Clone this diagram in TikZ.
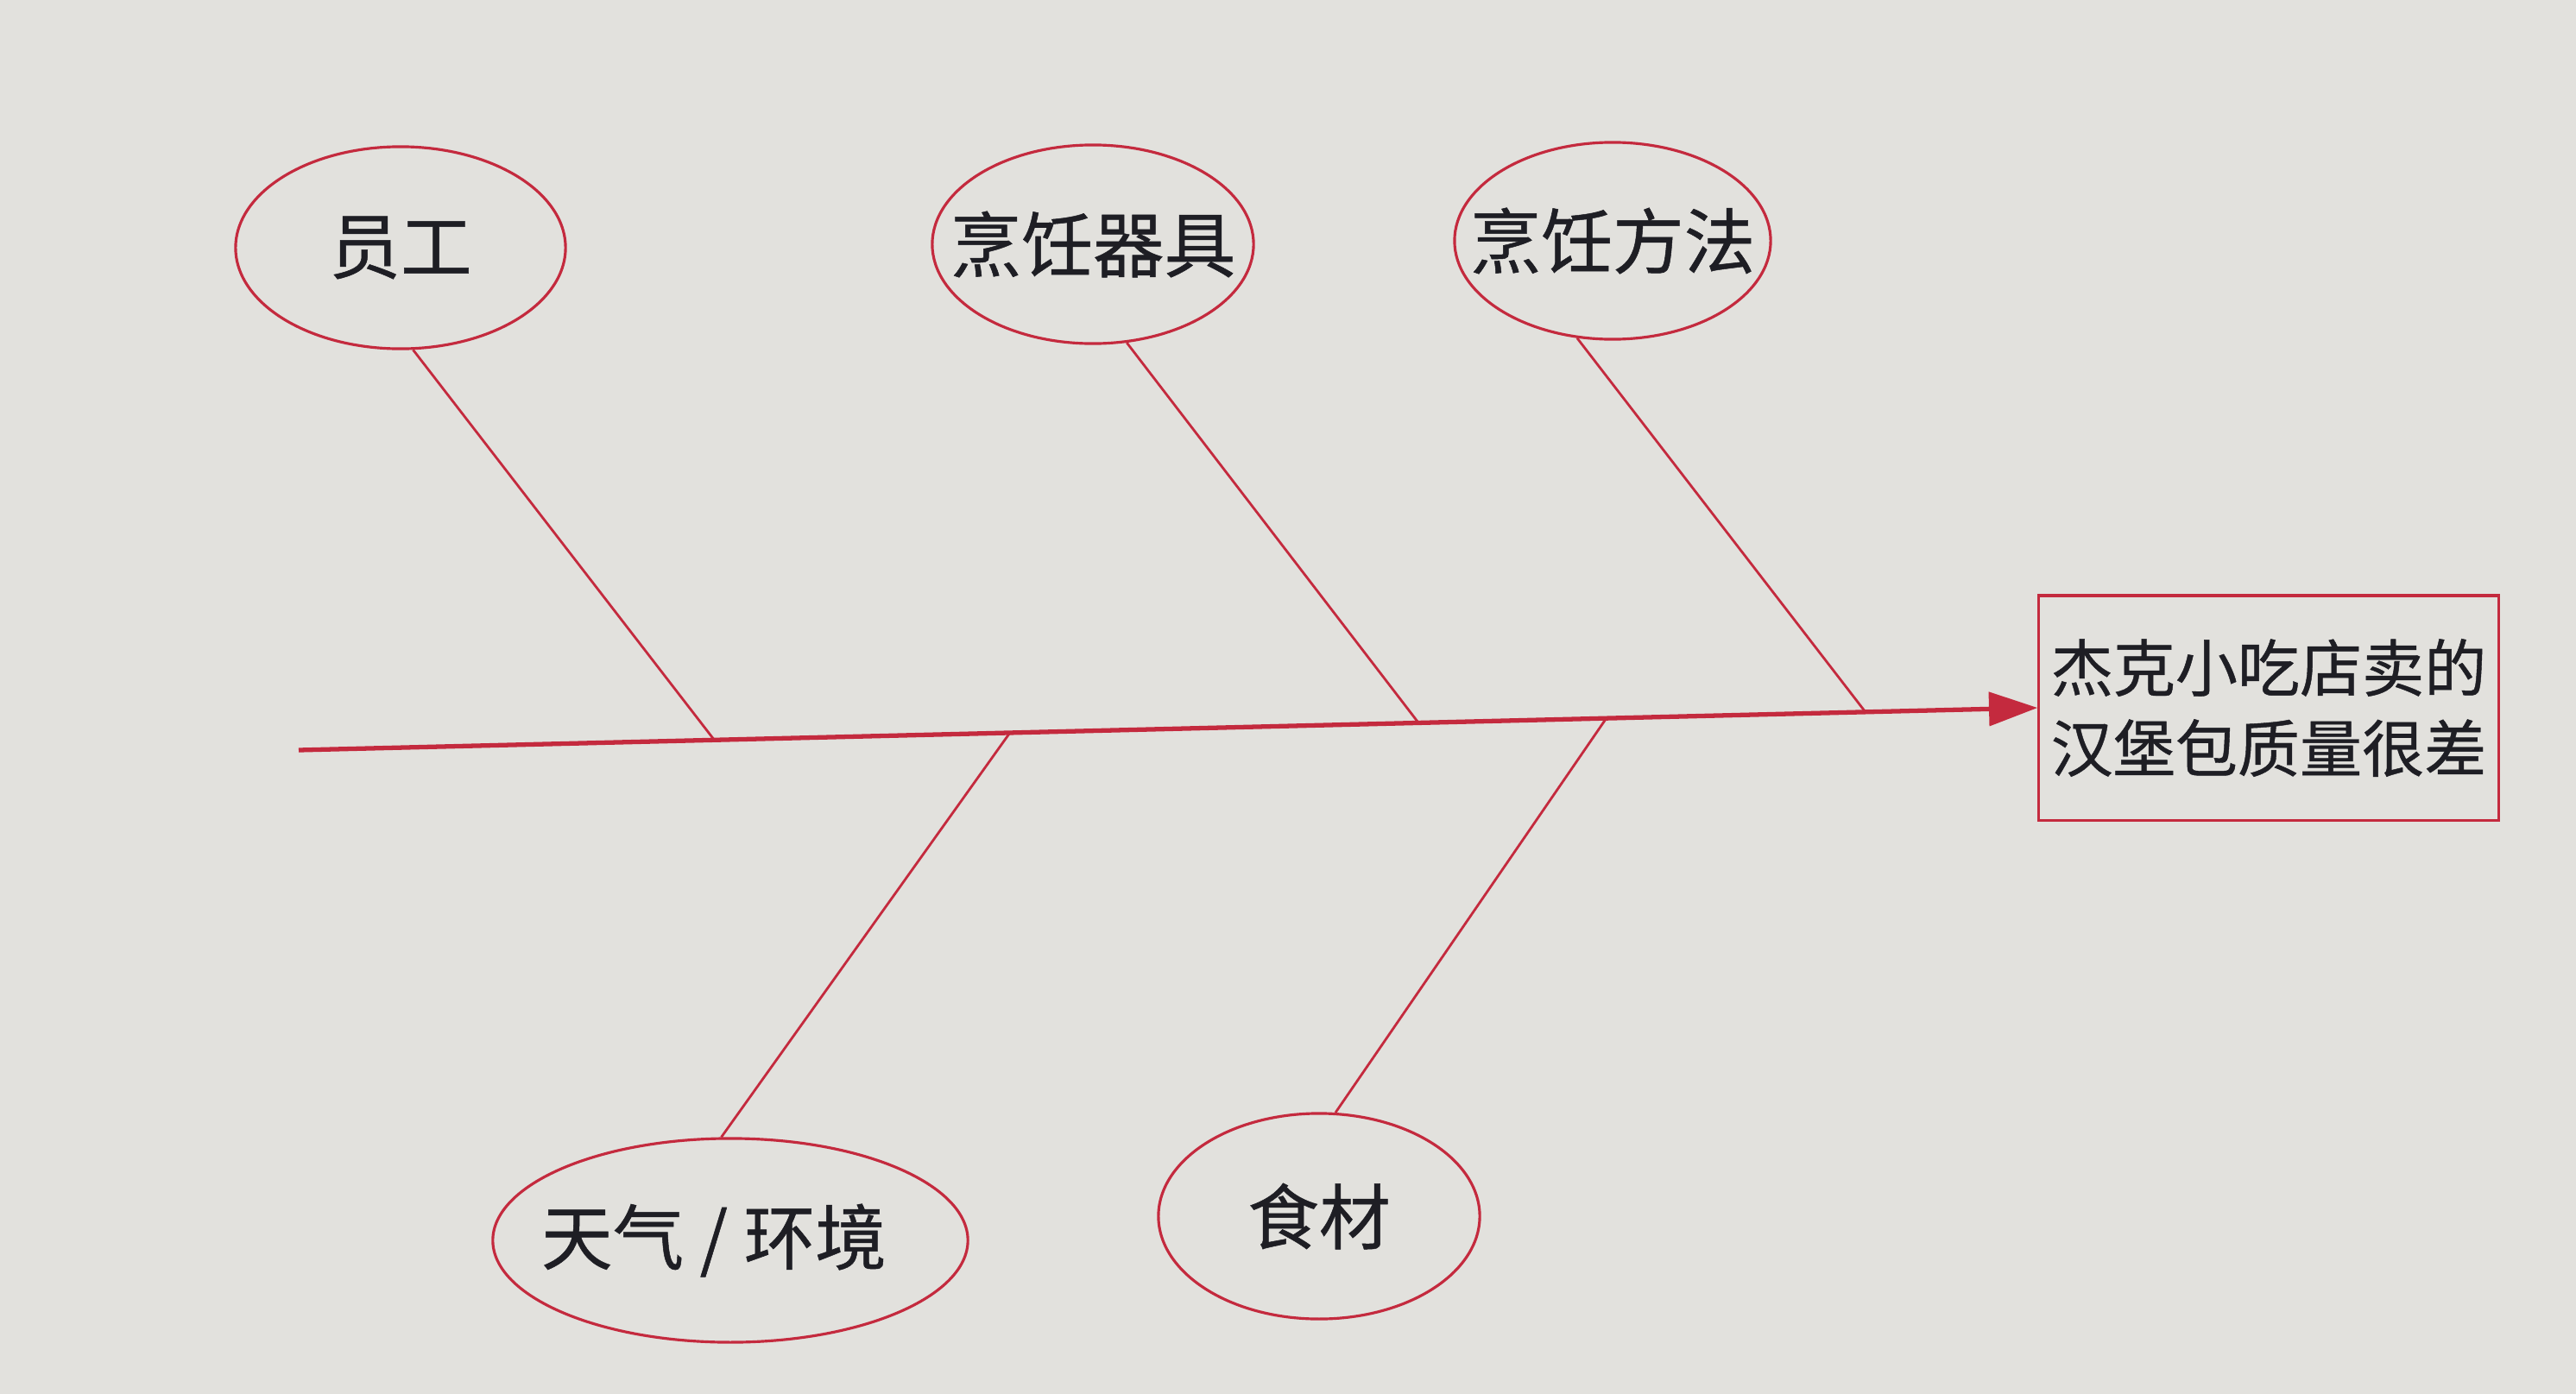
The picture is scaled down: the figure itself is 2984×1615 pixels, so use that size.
\documentclass[tikz,border=0pt]{standalone}
\usepackage{fontspec}
\setmainfont{Noto Sans CJK SC}[FakeBold=0.6]
\usetikzlibrary{shapes.geometric,arrows.meta,calc}
\definecolor{bonered}{RGB}{196,42,62}
\definecolor{paper}{RGB}{226,225,221}
\definecolor{ink}{RGB}{30,30,36}

\begin{document}
\begin{tikzpicture}[x=0.01cm, y=-0.01cm,
    cause/.style={ellipse, draw=bonered, line width=0.9pt, inner sep=0pt, text=ink, font=\fontsize{23.5}{28}\selectfont},
    rib/.style={draw=bonered, line width=0.8pt},
    spine/.style={draw=bonered, line width=1.5pt, -{Triangle[length=16pt,width=11pt]}}]
\fill[paper] (0,0) rectangle (2984,1615);
\node[cause, minimum width=3.82cm, minimum height=2.34cm] (staff) at (464,287) {\makebox[0pt]{员工}};
\node[cause, minimum width=3.72cm, minimum height=2.30cm] (tools) at (1266,283) {\makebox[0pt]{烹饪器具}};
\node[cause, minimum width=3.66cm, minimum height=2.28cm] (method) at (1868,279) {\makebox[0pt]{烹饪方法}};
\node[cause, minimum width=5.50cm, minimum height=2.36cm] (weather) at (846,1437) {\makebox[0pt]{\raisebox{-0.1cm}{天气 / 环境}\hspace*{0.38cm}}};
\node[cause, minimum width=3.72cm, minimum height=2.38cm] (food) at (1528,1409) {\makebox[0pt]{食材}};
\node[draw=bonered, line width=0.9pt, minimum width=5.32cm, minimum height=2.60cm, align=center, text=ink,
    font=\fontsize{20.5}{26.5}\selectfont] (effect) at (2628,820) {杰克小吃店卖的\\汉堡包质量很差};
\coordinate (tail) at (346,869);
\draw[spine] (tail) -- (effect.west);
\coordinate (j1) at ($(tail)!0.239!(effect.west)$);
\coordinate (j2) at ($(tail)!0.409!(effect.west)$);
\coordinate (j3) at ($(tail)!0.644!(effect.west)$);
\coordinate (j4) at ($(tail)!0.752!(effect.west)$);
\coordinate (j5) at ($(tail)!0.901!(effect.west)$);
\draw[rib] (staff.-83) -- (j1);
\draw[rib] (weather.95) -- (j2);
\draw[rib] (tools.-71) -- (j3);
\draw[rib] (food.81) -- (j4);
\draw[rib] (method.-110) -- (j5);
\end{tikzpicture}
\end{document}
